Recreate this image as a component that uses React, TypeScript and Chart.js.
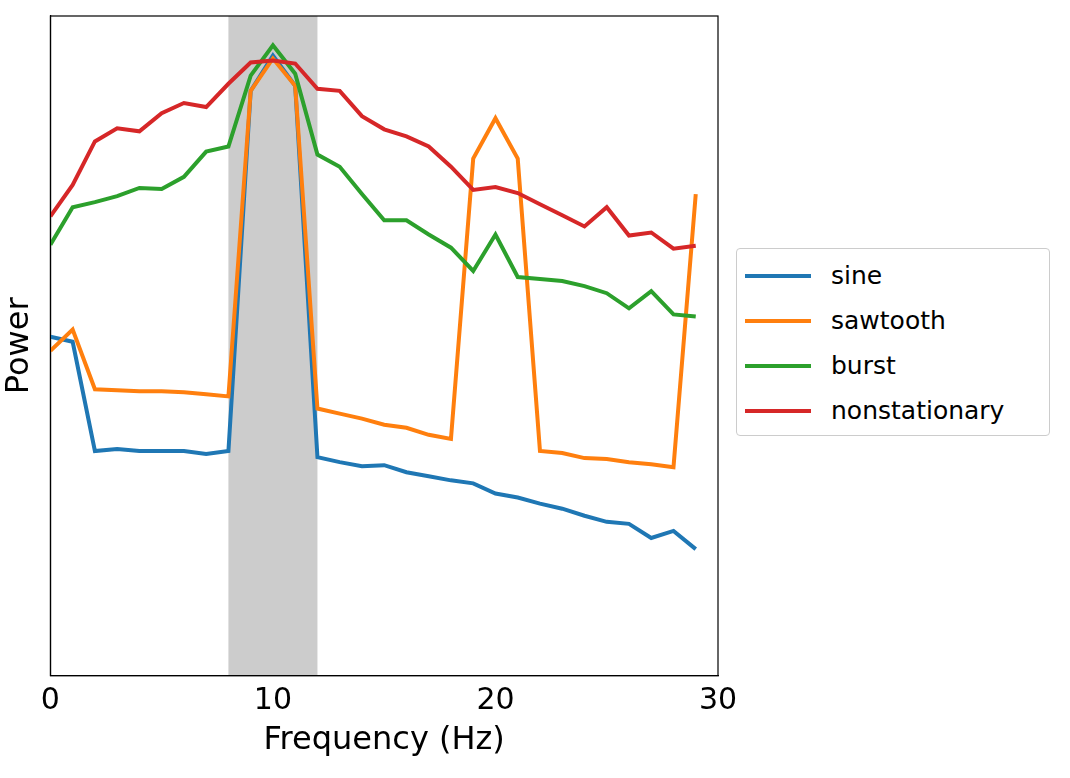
import React, { useEffect, useRef } from "react";
import { Chart, registerables } from "chart.js";
Chart.register(...registerables);

const freqs = Array.from({ length: 30 }, (_, i) => i);
const sine = [335,330,222,224,222,222,222,219,222,578,613,583,216,211,207,208,201,197,193,190,180,176,170,165,158,152,150,136,143,125];
const sawtooth = [321,342,283,282,281,281,280,278,276,578,610,583,264,259,254,248,245,238,234,511,551,511,222,220,215,214,211,209,206,476];
const burst = [426,463,468,474,482,481,493,518,523,593,623,595,515,503,476,450,450,436,423,400,436,394,392,390,385,378,363,380,357,355];
const nonstationary = [454,485,528,541,538,556,566,562,585,606,608,605,580,578,553,540,533,523,503,480,483,477,466,455,444,463,435,438,422,425];
const xTicks = [0, 10, 20, 30];
const band = [8, 12];

const names = ["sine", "sawtooth", "burst", "nonstationary"];
const colors = ["#1f77b4", "#ff7f0e", "#2ca02c", "#d62728"];
const series = [sine, sawtooth, burst, nonstationary];
const FONT = "'DejaVu Sans', sans-serif";

export default function App() {
  const ref = useRef<HTMLCanvasElement>(null);
  useEffect(() => {
    document.body.style.margin = "0";
    const bandPlugin = {
      id: "band",
      beforeDatasetsDraw(chart: any) {
        const { ctx, chartArea, scales } = chart;
        const x0 = scales.x.getPixelForValue(band[0]);
        const x1 = scales.x.getPixelForValue(band[1]);
        ctx.save();
        ctx.fillStyle = "#cccccc";
        ctx.fillRect(x0, chartArea.top, x1 - x0, chartArea.bottom - chartArea.top);
        ctx.restore();
      },
      afterDraw(chart: any) {
        const { ctx, chartArea } = chart;
        ctx.save();
        ctx.strokeStyle = "#000";
        ctx.lineWidth = 1.2;
        ctx.strokeRect(chartArea.left, chartArea.top, chartArea.right - chartArea.left, chartArea.bottom - chartArea.top);
        ctx.restore();
      },
    };
    const chart = new Chart(ref.current!, {
      type: "line",
      data: {
        datasets: series.map((s, i) => ({
          label: names[i],
          data: s.map((v, j) => ({ x: freqs[j], y: v })),
          borderColor: colors[i],
          backgroundColor: colors[i],
          borderWidth: 4,
          pointRadius: 0,
          tension: 0,
          order: 3 - i,
        })),
      },
      options: {
        animation: false,
        responsive: false,
        layout: { padding: { right: 352, top: 16, left: 0, bottom: 18 } },
        plugins: { legend: { display: false }, tooltip: { enabled: false } },
        scales: {
          x: {
            type: "linear",
            min: 0,
            max: 30,
            afterBuildTicks: (ax: any) => { ax.ticks = xTicks.map((v) => ({ value: v })); },
            grid: { display: false, drawTicks: true, tickLength: 6, tickColor: "#000" },
            border: { color: "#000", width: 1.2 },
            ticks: { color: "#000", font: { family: FONT, size: 30 }, maxRotation: 0, padding: 2 },
            title: { display: true, text: "Frequency (Hz)", color: "#000", font: { family: FONT, size: 32 }, padding: { top: 0, bottom: 0 } },
          },
          y: {
            min: 0,
            max: 652,
            grid: { display: false },
            border: { color: "#000", width: 1.2 },
            ticks: { display: false },
            title: { display: true, text: "Power", color: "#000", font: { family: FONT, size: 32 }, padding: { top: 0, bottom: 4 } },
          },
        },
      },
      plugins: [bandPlugin],
    });
    return () => chart.destroy();
  }, []);
  return (
    <div style={{ position: "relative", width: 1070, height: 778 }}>
      <canvas ref={ref} width={1070} height={778} style={{ display: "block" }} />
      <div style={{ position: "absolute", left: 736, top: 248, width: 314, height: 188, border: "1px solid #ccc", borderRadius: 4, background: "#fff", fontFamily: FONT, fontSize: 25, boxSizing: "border-box", padding: "4px 0 0 8px" }}>
        {names.map((n, i) => (
          <div key={n} style={{ display: "flex", alignItems: "center", height: 45 }}>
            <span style={{ display: "inline-block", width: 66, height: 4, background: colors[i], marginRight: 20 }} />
            <span>{n}</span>
          </div>
        ))}
      </div>
    </div>
  );
}
